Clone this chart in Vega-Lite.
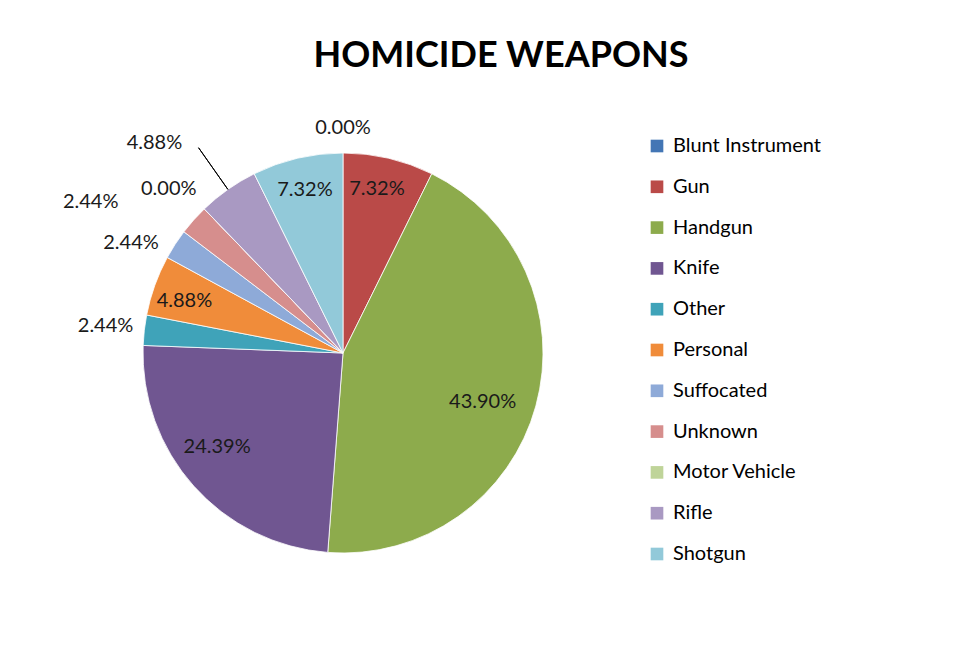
{
  "$schema": "https://vega.github.io/schema/vega-lite/v6.json",
  "width": 686,
  "height": 546,
  "autosize": {"type": "none"},
  "padding": {"left": 0, "top": 80, "right": 291, "bottom": 26},
  "background": "white",
  "title": {
    "text": "HOMICIDE WEAPONS",
    "font": "Lato",
    "fontSize": 36,
    "fontWeight": "bold",
    "color": "#000000",
    "anchor": "middle",
    "dx": 158,
    "dy": 7,
    "offset": 12
  },
  "data": {
    "values": [
      {"weapon": "Blunt Instrument", "pct": 0.0},
      {"weapon": "Gun", "pct": 7.32},
      {"weapon": "Handgun", "pct": 43.90},
      {"weapon": "Knife", "pct": 24.39},
      {"weapon": "Other", "pct": 2.44},
      {"weapon": "Personal", "pct": 4.88},
      {"weapon": "Suffocated", "pct": 2.44},
      {"weapon": "Unknown", "pct": 2.44},
      {"weapon": "Motor Vehicle", "pct": 0.0},
      {"weapon": "Rifle", "pct": 4.88},
      {"weapon": "Shotgun", "pct": 7.32}
    ]
  },
  "transform": [
    {"window": [{"op": "row_number", "as": "idx"}]},
    {"stack": "pct", "groupby": [], "sort": [{"field": "idx", "order": "ascending"}], "as": ["t0", "t1"]},
    {"calculate": "(datum.t0 + datum.t1) / 2", "as": "mid"},
    {"calculate": "datum.mid + (datum.weapon == 'Unknown' ? -3.0 : datum.weapon == 'Rifle' ? -1.9 : datum.weapon == 'Suffocated' ? -1.5 : datum.weapon == 'Knife' ? 1.4 : datum.weapon == 'Handgun' ? 1.1 : datum.weapon == 'Gun' ? -0.4 : datum.weapon == 'Motor Vehicle' ? -0.8 : datum.weapon == 'Personal' ? -0.4 : 0)", "as": "la"},
    {"calculate": "format(datum.pct, '.2f') + '%'", "as": "lbl"},
    {"calculate": "datum.weapon == 'Blunt Instrument' ? 225 : datum.weapon == 'Unknown' ? 294 : datum.weapon == 'Rifle' ? 282 : datum.pct < 4 ? 239 : datum.weapon == 'Handgun' ? 148 : datum.weapon == 'Knife' ? 157 : 167", "as": "lr"}
  ],
  "layer": [
    {
      "mark": {"type": "arc", "outerRadius": 200, "stroke": "#ffffff", "strokeWidth": 0.8},
      "encoding": {
        "theta": {"field": "t0", "type": "quantitative", "stack": null, "scale": {"domain": [0, 100.01]}},
        "theta2": {"field": "t1"},
        "color": {
          "field": "weapon",
          "type": "nominal",
          "sort": null,
          "scale": {
            "domain": ["Blunt Instrument", "Gun", "Handgun", "Knife", "Other", "Personal", "Suffocated", "Unknown", "Motor Vehicle", "Rifle", "Shotgun"],
            "range": ["#4376B5", "#BA4A48", "#8DAB4C", "#705691", "#3FA3B9", "#F08C3A", "#8EAAD8", "#D68E8D", "#BFD499", "#A999C2", "#92C9D9"]
          },
          "legend": {
            "orient": "none",
            "legendX": 647,
            "legendY": 56,
            "title": null,
            "symbolType": "square",
            "symbolSize": 160,
            "symbolStrokeWidth": 0,
            "labelFont": "Lato",
            "labelFontSize": 20,
            "labelColor": "#000000",
            "rowPadding": 20.8,
            "labelOffset": 6,
            "padding": 0
          }
        }
      }
    },
    {
      "transform": [{"filter": "datum.weapon == 'Rifle'"}],
      "mark": {"type": "arc", "innerRadius": 200, "outerRadius": 251, "fillOpacity": 0, "stroke": "#000000", "strokeWidth": 1},
      "encoding": {
        "theta": {"field": "mid", "type": "quantitative", "stack": null},
        "theta2": {"field": "mid"}
      }
    },
    {
      "mark": {"type": "text", "font": "Lato", "fontSize": 20, "color": "#1a1a1a"},
      "encoding": {
        "theta": {"field": "la", "type": "quantitative", "stack": null},
        "radius": {"field": "lr", "type": "quantitative", "scale": null, "stack": null},
        "text": {"field": "lbl", "type": "nominal"}
      }
    }
  ],
  "config": {"view": {"stroke": null}}
}
